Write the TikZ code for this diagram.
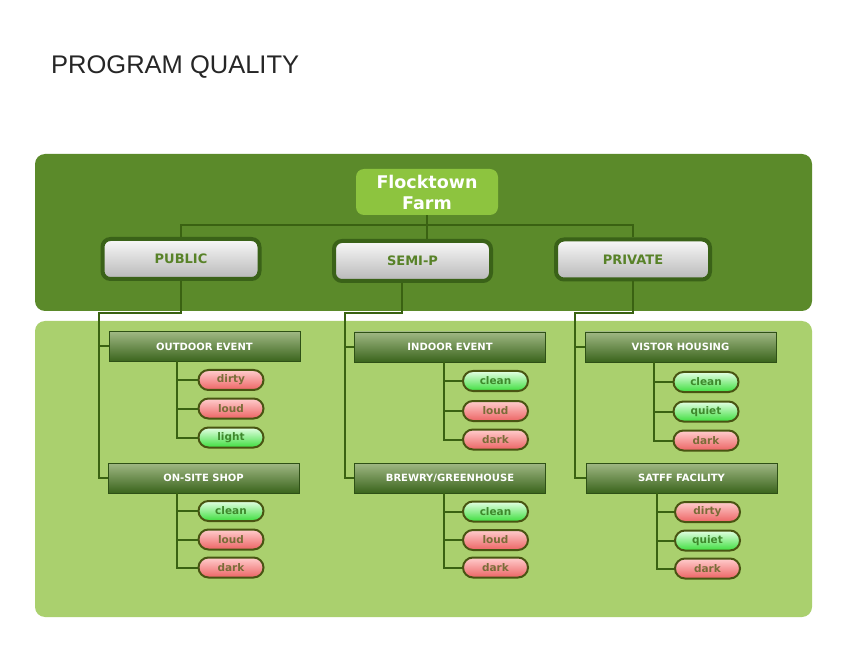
\documentclass[tikz,border=0pt]{standalone}
\usepackage{fontspec}
\setmainfont{DejaVu Sans}
\newfontfamily\titlefont{Liberation Sans}
\definecolor{darkpanel}{RGB}{91,138,42}
\definecolor{lightpanel}{RGB}{170,208,110}
\definecolor{ffgreen}{RGB}{141,196,63}
\definecolor{connc}{RGB}{58,98,18}
\definecolor{boxborder}{RGB}{58,98,24}
\definecolor{boxtext}{RGB}{88,130,40}
\definecolor{cattop}{RGB}{160,184,132}
\definecolor{catbot}{RGB}{58,100,28}
\definecolor{pillborder}{RGB}{72,84,18}
\definecolor{redtop}{RGB}{255,205,205}
\definecolor{redbot}{RGB}{236,100,100}
\definecolor{redtext}{RGB}{122,108,56}
\definecolor{greentop}{RGB}{228,255,228}
\definecolor{greenbot}{RGB}{62,222,62}
\definecolor{greentext}{RGB}{62,136,44}
\tikzset{
  x={(1pt,0)}, y={(0,-1pt)},
  panel/.style={rounded corners=10pt, draw=none},
  ffbox/.style={fill=ffgreen, rounded corners=8pt, minimum width=142pt, minimum height=46pt,
    text=white, font=\fontsize{17.5pt}{21pt}\selectfont\bfseries, align=center, inner sep=0pt},
  zonebox/.style={draw=boxborder, line width=4pt, rounded corners=8pt, top color=white!95!gray,
    bottom color=black!28, minimum width=157pt, minimum height=40pt, text=boxtext,
    font=\fontsize{13pt}{15pt}\selectfont\bfseries},
  catbox/.style={draw=catbot!80!black, line width=0.6pt, top color=cattop, bottom color=catbot,
    minimum width=191pt, minimum height=30pt, text=white,
    font=\fontsize{10pt}{12pt}\selectfont\bfseries},
  pill/.style={draw=pillborder, line width=2pt, rounded corners=10pt, minimum width=65pt,
    minimum height=20pt, inner sep=0pt, font=\fontsize{10.5pt}{12pt}\selectfont\bfseries},
  redpill/.style={pill, top color=redtop, bottom color=redbot, text=redtext},
  greenpill/.style={pill, top color=greentop, bottom color=greenbot, text=greentext},
  conn/.style={draw=connc, line width=2pt},
}
\begin{document}
\begin{tikzpicture}
\useasboundingbox (0,0) rectangle (847,655);
\fill[white] (0,0) rectangle (847,655);
% title
\node[anchor=base west, inner sep=0pt, font=\titlefont\fontsize{25.5pt}{28pt}\selectfont, text=black!85] (title) at (51,74) {PROGRAM QUALITY};
% panels
\fill[panel, fill=darkpanel] (35,154) rectangle (812,311);
\fill[panel, fill=lightpanel] (35,321) rectangle (812,617);
% top level
\node[ffbox] (ff) at (427,192) {Flocktown\\Farm};
\node[zonebox] (pub) at (181,259) {PUBLIC};
\node[zonebox] (semi) at (412.5,261) {SEMI-P};
\node[zonebox, minimum width=154pt] (priv) at (633,259.5) {PRIVATE};
\coordinate (hub) at (427,225);
% category boxes
\node[catbox] (outd) at (204.5,346.5) {OUTDOOR EVENT};
\node[catbox] (shop) at (203.5,478) {ON-SITE SHOP};
\node[catbox] (ind) at (450,347) {INDOOR EVENT};
\node[catbox] (brew) at (450,478) {BREWRY/GREENHOUSE};
\node[catbox] (vis) at (680.5,347) {VISTOR HOUSING};
\node[catbox] (staff) at (681.5,478) {SATFF FACILITY};
% pills
\node[redpill] (o1) at (231,380) {dirty};
\node[redpill] (o2) at (231,408.5) {loud};
\node[greenpill] (o3) at (231,437.5) {light};
\node[greenpill] (s1) at (231,511) {clean};
\node[redpill] (s2) at (231,539.5) {loud};
\node[redpill] (s3) at (231,567.5) {dark};
\node[greenpill] (i1) at (495.5,381) {clean};
\node[redpill] (i2) at (495.5,411) {loud};
\node[redpill] (i3) at (495.5,439.5) {dark};
\node[greenpill] (b1) at (495.5,511.5) {clean};
\node[redpill] (b2) at (495.5,540) {loud};
\node[redpill] (b3) at (495.5,567.5) {dark};
\node[greenpill] (v1) at (706,382) {clean};
\node[greenpill] (v2) at (706,411.5) {quiet};
\node[redpill] (v3) at (706,440.5) {dark};
\node[redpill] (f1) at (707.5,512) {dirty};
\node[greenpill] (f2) at (707.5,540.5) {quiet};
\node[redpill] (f3) at (707.5,568.5) {dark};
% top connectors
\draw[conn] (ff.south) -- (ff.south |- semi.north);
\draw[conn] (pub.north) |- (hub) -| (priv.north);
% trunks
\coordinate (pubL) at (99,313);
\coordinate (semiL) at (345,313);
\coordinate (privL) at (575,313);
\draw[conn] (pub.south) |- (pubL) |- (shop.west);
\draw[conn] (outd.west -| pubL) -- (outd.west);
\draw[conn] (semi.south -| 402,0) |- (semiL) |- (brew.west);
\draw[conn] (ind.west -| semiL) -- (ind.west);
\draw[conn] (priv.south) |- (privL) |- (staff.west);
\draw[conn] (vis.west -| privL) -- (vis.west);
% pill stems
\coordinate (oS) at (177,361.5);
\draw[conn] (oS) |- (o3.west); \draw[conn] (oS |- o1.west) -- (o1.west); \draw[conn] (oS |- o2.west) -- (o2.west);
\coordinate (sS) at (177,493);
\draw[conn] (sS) |- (s3.west); \draw[conn] (sS |- s1.west) -- (s1.west); \draw[conn] (sS |- s2.west) -- (s2.west);
\coordinate (iS) at (444,362);
\draw[conn] (iS) |- (i3.west); \draw[conn] (iS |- i1.west) -- (i1.west); \draw[conn] (iS |- i2.west) -- (i2.west);
\coordinate (bS) at (444,493);
\draw[conn] (bS) |- (b3.west); \draw[conn] (bS |- b1.west) -- (b1.west); \draw[conn] (bS |- b2.west) -- (b2.west);
\coordinate (vS) at (654,362);
\draw[conn] (vS) |- (v3.west); \draw[conn] (vS |- v1.west) -- (v1.west); \draw[conn] (vS |- v2.west) -- (v2.west);
\coordinate (fS) at (657,493);
\draw[conn] (fS) |- (f3.west); \draw[conn] (fS |- f1.west) -- (f1.west); \draw[conn] (fS |- f2.west) -- (f2.west);
\end{tikzpicture}
\end{document}
